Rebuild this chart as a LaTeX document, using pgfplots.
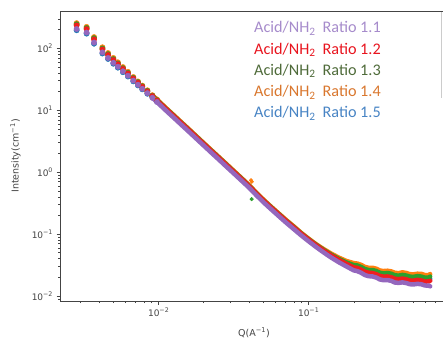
\documentclass[border=0pt]{standalone}
\usepackage{pgfplots}
\pgfplotsset{compat=1.18}
\usepackage{fontspec}
\setmainfont{DejaVu Sans}
\newfontfamily\calibri{Carlito}
\definecolor{cpur}{HTML}{9467BD}
\definecolor{cred}{HTML}{F01E1E}
\definecolor{cgrn}{HTML}{2CA02C}
\definecolor{corg}{HTML}{FF7F0E}
\definecolor{cblu}{HTML}{1F77B4}
\definecolor{tpur}{HTML}{A68BCB}
\definecolor{tred}{HTML}{E8141E}
\definecolor{tgrn}{HTML}{4F6B3A}
\definecolor{torg}{HTML}{D9772E}
\definecolor{tblu}{HTML}{4884C4}
\definecolor{axgray}{HTML}{444444}

% low-Q discrete points: Q, I for each series
\pgfplotstableread{
q        pur    red    grn    org    blu
0.00284  205    235    245    255    196
0.00331  180    205    213    222    173
0.00371  124    140    146    152    119
0.00422  86     96     99.5   104    82.5
0.00460  70     78     80.5   84     67.5
0.00499  58.5   65     67     70     56.5
0.00535  50.5   55.5   57     59.5   48.8
0.00578  42.6   46.6   47.8   49.8   41.2
0.00624  36.2   39.3   40.2   41.8   35.1
0.00678  30.2   32.6   33.3   34.4   29.3
0.00728  25.9   27.8   28.4   29.2   25.2
0.00778  22.3   23.9   24.4   25.0   21.8
0.00841  18.9   20.1   20.5   21.0   18.5
0.00908  15.9   16.9   17.15  17.5   16.4
0.00975  13.6   14.4   14.6   14.9   14.0
}\lowq

% dense region
\pgfplotstableread{
q        pur     red     grn     org     blu
0.00908  15.9    16.9    17.15   17.5    16.4
0.0100   12.8    13.6    13.8    14.1    13.2
0.0112   9.87    10.5    10.66   10.87   10.19
0.01259  7.61    8.10    8.22    8.38    7.86
0.01413  5.87    6.24    6.33    6.46    6.05
0.01585  4.54    4.83    4.90    5.00    4.69
0.01778  3.50    3.72    3.78    3.85    3.61
0.01995  2.70    2.87    2.91    2.97    2.78
0.02239  2.08    2.21    2.24    2.29    2.14
0.02512  1.61    1.71    1.74    1.77    1.66
0.02818  1.24    1.32    1.34    1.37    1.28
0.03162  0.959   1.02    1.035   1.056   0.989
0.03548  0.740   0.787   0.799   0.815   0.763
0.03981  0.571   0.607   0.616   0.628   0.589
0.04467  0.428   0.455   0.462   0.471   0.441
0.0501   0.325   0.346   0.351   0.358   0.336
0.0562   0.252   0.268   0.272   0.277   0.260
0.0631   0.196   0.209   0.212   0.216   0.203
0.0708   0.153   0.163   0.165   0.169   0.158
0.0794   0.121   0.129   0.131   0.134   0.125
0.0891   0.0955  0.1016  0.103   0.105   0.0986
0.1000   0.0765  0.0814  0.0826  0.0843  0.0790
0.1122   0.0618  0.0660  0.0672  0.0686  0.0642
0.1259   0.0505  0.0543  0.0556  0.0572  0.0528
0.1413   0.0418  0.0453  0.0466  0.0484  0.0442
0.1585   0.0352  0.0385  0.0399  0.0418  0.0375
0.1778   0.0302  0.0333  0.0350  0.0369  0.0326
0.1995   0.0260  0.0290  0.0316  0.0340  0.0298
0.2113   0.0252  0.0284  0.0311  0.0334  0.0292
0.2239   0.0237  0.0266  0.0294  0.0318  0.0276
0.2371   0.0218  0.0246  0.0272  0.0295  0.0257
0.2512   0.0209  0.0238  0.0263  0.0285  0.0247
0.2661   0.0207  0.0235  0.0263  0.0286  0.0246
0.2818   0.0199  0.0225  0.0253  0.0276  0.0236
0.2985   0.0185  0.0211  0.0237  0.0258  0.0222
0.3162   0.0180  0.0205  0.0231  0.0253  0.0217
0.3350   0.0181  0.0207  0.0235  0.0256  0.0219
0.3548   0.0176  0.0201  0.0229  0.0250  0.0213
0.3758   0.0165  0.0190  0.0216  0.0237  0.0203
0.3981   0.0163  0.0187  0.0213  0.0234  0.0200
0.4217   0.0166  0.0191  0.0219  0.0241  0.0203
0.4467   0.0162  0.0186  0.0214  0.0236  0.0199
0.4732   0.0155  0.0178  0.0205  0.0225  0.0191
0.5012   0.0154  0.0177  0.0204  0.0224  0.0189
0.5309   0.0157  0.0182  0.0209  0.0229  0.0193
0.5623   0.0155  0.0179  0.0206  0.0228  0.0191
0.5957   0.0148  0.0171  0.0198  0.0218  0.0184
0.6310   0.0147  0.0172  0.0198  0.0218  0.0183
0.6457   0.0143  0.0176  0.0206  0.0226  0.0187
}\dense

\begin{document}
\begin{tikzpicture}[x=1bp,y=1bp]
\begin{axis}[
  at={(60bp,-301bp)}, anchor=south west,
  scale only axis, width=388bp, height=290bp,
  xmode=log, ymode=log,
  xmin=0.0022, xmax=0.849, ymin=0.0083, ymax=401,
  axis line style={axgray, line width=0.8bp},
  tick style={axgray, line width=0.6bp},
  tick align=outside, tick pos=left,
  major tick length=3.5bp, minor tick length=2bp,
  xtick={0.01,0.1},
  xticklabels={10\textsuperscript{−2},10\textsuperscript{−1}},
  minor xtick={0.003,0.004,0.005,0.006,0.007,0.008,0.009,0.02,0.03,0.04,0.05,0.06,0.07,0.08,0.09,0.2,0.3,0.4,0.5,0.6,0.7,0.8},
  ytick={0.01,0.1,1,10,100},
  yticklabels={10\textsuperscript{−2},10\textsuperscript{−1},10\textsuperscript{0},10\textsuperscript{1},10\textsuperscript{2}},
  minor ytick={0.009,0.02,0.03,0.04,0.05,0.06,0.07,0.08,0.09,0.2,0.3,0.4,0.5,0.6,0.7,0.8,0.9,2,3,4,5,6,7,8,9,20,30,40,50,60,70,80,90,200,300},
  ticklabel style={font=\fontsize{9bp}{10bp}\selectfont, text=axgray},
  xlabel={Q(A\textsuperscript{−1})},
  ylabel={Intensity(cm\textsuperscript{−1})},
  label style={font=\fontsize{9.5bp}{11bp}\selectfont, text=axgray},
  xlabel style={at={(axis description cs:0.5,-0.1086)}, anchor=center},
  ylabel style={at={(axis description cs:-0.1147,0.5)}, anchor=center, rotate=0},
  clip=true,
]
% low-Q discrete markers
\addplot[only marks, mark=*, mark size=2.7bp, cblu] table[x=q, y=blu] {\lowq};
\addplot[only marks, mark=*, mark size=2.7bp, corg] table[x=q, y=org] {\lowq};
\addplot[only marks, mark=*, mark size=2.7bp, cgrn] table[x=q, y=grn] {\lowq};
\addplot[only marks, mark=*, mark size=2.7bp, cred] table[x=q, y=red] {\lowq};
\addplot[only marks, mark=*, mark size=2.7bp, cpur] table[x=q, y=pur] {\lowq};
% dense region drawn as thick bands
\addplot[cblu, line width=4.5bp, line join=round, line cap=round, no marks] table[x=q, y=blu] {\dense};
\addplot[corg, line width=4.5bp, line join=round, line cap=round, no marks] table[x=q, y=org] {\dense};
\addplot[cgrn, line width=4.5bp, line join=round, line cap=round, no marks] table[x=q, y=grn] {\dense};
\addplot[cred, line width=4.5bp, line join=round, line cap=round, no marks] table[x=q, y=red] {\dense};
\addplot[cpur, line width=4.5bp, line join=round, line cap=round, no marks] table[x=q, y=pur] {\dense};
% outlying points
\addplot[only marks, mark=*, mark size=1.8bp, corg] coordinates {(0.0413,0.74) (0.0418,0.70)};
\addplot[only marks, mark=*, mark size=1.8bp, cgrn] coordinates {(0.0417,0.367)};
\end{axis}
% legend-like text
\begin{scope}[every node/.style={anchor=base west, inner sep=0pt, font=\calibri\fontsize{16.2bp}{19bp}\selectfont}]
\node[text=tpur] at (254,-32.7) {Acid/NH\textsubscript{2}\hspace{0.2em} Ratio 1.1};
\node[text=tred] at (254,-54.0) {Acid/NH\textsubscript{2}\hspace{0.2em} Ratio 1.2};
\node[text=tgrn] at (254,-75.3) {Acid/NH\textsubscript{2}\hspace{0.2em} Ratio 1.3};
\node[text=torg] at (254,-96.6) {Acid/NH\textsubscript{2}\hspace{0.2em} Ratio 1.4};
\node[text=tblu] at (254,-117.9) {Acid/NH\textsubscript{2}\hspace{0.2em} Ratio 1.5};
\end{scope}
\draw[black!20, line width=0.8bp] (441.5,-12) -- (441.5,-98);
\pgfresetboundingbox
\useasboundingbox (0,0) rectangle (443,-339);
\end{tikzpicture}
\end{document}
